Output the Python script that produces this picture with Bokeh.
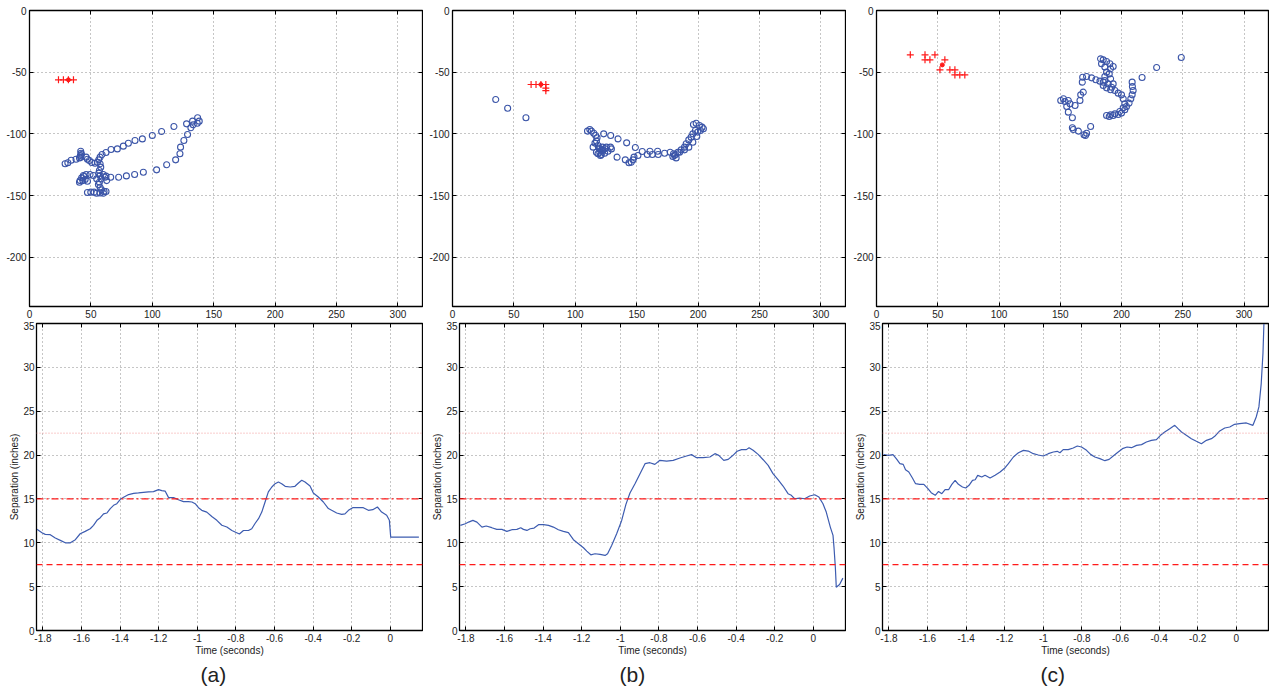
from bokeh.plotting import figure
from bokeh.layouts import row, column
from bokeh.models import (Span, Title, LinearAxis, FixedTicker, Range1d,
                          CustomJSTickFormatter)
from bokeh.embed import file_html
from bokeh.resources import INLINE

# ---------------- data ----------------
# Tracked hand positions (pixels) for the three trials
a_pos_x = [29.0, 31.2, 33.9, 37.9, 40.7, 41.7, 42.0, 41.5, 42.3, 41.7, 46.1, 47.2, 48.8, 50.7,
           53.4, 55.3, 56.4, 57.5, 59.1, 62.3, 66.4, 71.5, 76.4, 80.5, 85.9, 91.9, 100.0, 107.6,
           117.6, 127.9, 132.8, 136.9, 138.2, 136.6, 133.3, 131.4, 128.7, 125.7, 123.0, 122.5,
           119.0, 111.7, 103.5, 92.7, 85.6, 78.9, 72.6, 66.1, 62.3, 60.2, 57.5, 58.0, 56.9, 56.4,
           57.5, 58.3, 56.9, 56.1, 57.5, 58.8, 60.7, 62.3, 60.2, 57.5, 54.7, 52.6, 49.9, 47.2,
           62.9, 61.5, 54.7, 52.0, 49.3, 46.1, 43.9, 42.5, 41.2, 40.7, 43.4, 45.3, 47.2, 44.4]
a_pos_y = [-124.3, -123.5, -121.4, -120.6, -119.5, -114.1, -115.7, -117.6, -116.8, -118.9, -118.9,
           -120.6, -121.6, -123.3, -123.8, -123.0, -121.1, -118.9, -116.8, -115.1, -112.7, -112.2,
           -110.0, -107.6, -105.4, -104.1, -101.4, -98.1, -94.1, -91.9, -89.7, -87.0, -89.7, -91.4,
           -92.7, -95.1, -100.6, -105.4, -110.8, -116.2, -121.1, -125.1, -129.2, -131.1, -133.0,
           -134.1, -135.2, -135.2, -134.3, -133.0, -124.3, -127.0, -129.7, -131.9, -133.8, -136.5,
           -139.2, -141.1, -143.3, -145.4, -146.8, -146.8, -148.1, -147.9, -148.1, -147.3, -147.3,
           -147.6, -137.9, -135.2, -136.5, -133.8, -133.0, -133.0, -133.8, -135.7, -137.9, -139.2,
           -137.9, -137.0, -138.4, -134.6]
a_ref_x = [23.6, 27.6, 31.7, 35.8]
a_ref_y = [-56.2, -56.2, -56.2, -56.2]
a_dot_x = [31.7]
a_dot_y = [-56.2]

b_pos_x = [35.2, 44.9, 59.8, 109.9, 111.8, 113.1, 115.0, 116.6, 117.7, 114.5, 117.2, 118.5, 119.9,
           117.2, 118.5, 121.2, 123.9, 126.6, 128.6, 129.4, 125.3, 122.0, 119.9, 122.6, 123.1, 128.8,
           134.8, 141.8, 148.9, 134.0, 140.7, 143.7, 145.6, 147.0, 147.8, 151.0, 154.5, 158.6, 160.8,
           162.7, 167.0, 167.5, 172.7, 177.3, 180.8, 182.1, 180.0, 183.5, 186.2, 188.9, 190.3, 192.4,
           194.3, 195.7, 197.8, 196.2, 198.4, 201.1, 203.2, 204.3, 201.9, 199.7, 198.9, 195.7, 192.4,
           188.9, 184.9, 181.6, 179.4, 120.5, 121.8, 124.0, 119.3, 116.0]
b_pos_y = [-72.2, -79.2, -87.0, -97.8, -96.5, -97.8, -99.5, -101.4, -103.2, -110.8, -105.9, -109.5,
           -112.2, -114.9, -116.2, -116.8, -115.7, -114.1, -110.8, -112.2, -110.8, -110.8, -114.9,
           -113.0, -100.0, -101.4, -104.1, -107.3, -111.1, -118.9, -121.1, -123.5, -123.0, -121.1,
           -118.9, -117.6, -114.3, -116.8, -114.1, -116.8, -114.1, -116.8, -115.7, -114.9, -117.6,
           -119.5, -116.2, -114.9, -113.0, -110.8, -108.1, -104.9, -102.7, -100.0, -97.3, -92.4,
           -91.4, -93.2, -94.6, -95.9, -97.3, -98.6, -102.2, -106.8, -110.8, -113.0, -114.9, -116.8,
           -118.4, -117.5, -113.8, -112.0, -111.5, -107.5]
b_ref_x = [64.0, 68.0, 72.0, 76.0, 76.0, 76.0]
b_ref_y = [-60.0, -60.0, -60.0, -60.0, -63.0, -65.0]
b_dot_x = [72.0]
b_dot_y = [-60.0]

c_pos_x = [248.8, 228.7, 216.8, 208.7, 208.9, 209.5, 208.7, 207.6, 206.2, 204.1, 202.7, 200.0, 197.3,
           193.2, 190.0, 187.8, 191.1, 194.6, 198.6, 201.4, 202.7, 201.4, 200.0, 197.3, 194.6, 191.9,
           189.2, 186.4, 185.1, 187.8, 191.1, 193.2, 191.1, 190.0, 191.1, 193.2, 190.5, 187.8, 185.1,
           182.9, 183.7, 186.4, 187.8, 186.4, 185.1, 182.4, 179.1, 175.6, 171.5, 168.3, 168.0, 168.8,
           166.7, 166.1, 162.1, 158.0, 153.9, 150.4, 152.6, 156.6, 155.3, 156.6, 159.9, 159.9, 160.7,
           164.8, 169.4, 171.5, 170.7, 174.8]
c_pos_y = [-38.1, -46.2, -54.3, -58.1, -61.6, -64.9, -68.4, -71.6, -75.1, -77.8, -80.5, -83.2, -84.3,
           -85.1, -85.9, -85.1, -84.6, -83.8, -81.9, -78.9, -75.7, -71.6, -68.4, -67.0, -64.9, -62.2,
           -59.5, -56.8, -60.8, -62.7, -64.3, -59.5, -55.4, -51.4, -47.3, -45.4, -43.2, -41.4, -40.0,
           -39.2, -43.2, -45.9, -50.0, -53.5, -58.1, -57.3, -56.2, -54.6, -53.5, -54.1, -58.1, -66.2,
           -68.4, -73.0, -77.0, -75.7, -73.8, -73.0, -71.6, -73.0, -77.8, -82.4, -87.0, -95.1, -96.5,
           -97.8, -100.8, -99.5, -101.4, -94.1]
c_ref_x = [27.6, 39.6, 47.7, 39.6, 43.6, 55.8, 51.8, 59.9, 64.0, 64.0, 68.0, 72.1]
c_ref_y = [-35.9, -35.9, -35.9, -40.0, -40.0, -40.0, -48.1, -48.1, -48.1, -52.2, -52.2, -52.2]
c_dot_x = [53.7]
c_dot_y = [-44.1]

# Separation (inches) against time (seconds)
a_time = [-1.831, -1.805, -1.788, -1.762, -1.736, -1.710, -1.684, -1.658, -1.632, -1.607, -1.581,
          -1.555, -1.538, -1.520, -1.503, -1.486, -1.468, -1.451, -1.434, -1.417, -1.399, -1.382,
          -1.356, -1.330, -1.305, -1.279, -1.253, -1.227, -1.201, -1.184, -1.167, -1.149, -1.123,
          -1.098, -1.072, -1.046, -1.028, -1.011, -0.994, -0.977, -0.951, -0.925, -0.899, -0.873,
          -0.847, -0.821, -0.796, -0.782, -0.761, -0.735, -0.718, -0.701, -0.683, -0.666, -0.649,
          -0.632, -0.614, -0.597, -0.580, -0.563, -0.545, -0.519, -0.494, -0.476, -0.459, -0.442,
          -0.416, -0.399, -0.373, -0.347, -0.321, -0.304, -0.278, -0.252, -0.235, -0.217, -0.195,
          -0.166, -0.140, -0.114, -0.091, -0.067, -0.045, -0.019, -0.005, 0.002, 0.033, 0.148]
a_sep = [11.53, 11.15, 10.96, 10.92, 10.54, 10.27, 10.0, 10.0, 10.35, 11.03, 11.3, 11.6, 11.99,
         12.56, 12.86, 13.3, 13.4, 13.9, 14.27, 14.46, 14.95, 15.2, 15.5, 15.64, 15.68, 15.75, 15.8,
         15.83, 16.06, 15.94, 15.9, 15.15, 15.15, 14.9, 14.7, 14.7, 14.65, 14.46, 14.0, 13.7, 13.5,
         13.0, 12.56, 12.0, 11.8, 11.4, 11.15, 11.0, 11.4, 11.4, 11.6, 12.2, 12.75, 13.5, 14.65,
         15.8, 16.36, 16.74, 16.93, 16.74, 16.44, 16.36, 16.44, 16.82, 17.12, 16.93, 16.48, 15.68,
         15.22, 14.65, 13.9, 13.7, 13.4, 13.24, 13.3, 13.7, 14.0, 14.0, 14.0, 13.7, 13.77, 14.08,
         13.5, 13.13, 12.56, 10.65, 10.65, 10.65]

b_time = [-1.829, -1.803, -1.786, -1.764, -1.743, -1.717, -1.695, -1.666, -1.640, -1.614, -1.588,
          -1.562, -1.536, -1.516, -1.502, -1.484, -1.467, -1.447, -1.424, -1.398, -1.372, -1.347,
          -1.321, -1.295, -1.269, -1.243, -1.217, -1.191, -1.174, -1.153, -1.131, -1.105, -1.079,
          -1.066, -1.045, -1.019, -0.993, -0.971, -0.950, -0.924, -0.898, -0.872, -0.847, -0.821,
          -0.795, -0.760, -0.726, -0.691, -0.657, -0.631, -0.605, -0.571, -0.536, -0.510, -0.490,
          -0.464, -0.441, -0.416, -0.395, -0.372, -0.347, -0.333, -0.312, -0.286, -0.260, -0.234,
          -0.209, -0.183, -0.157, -0.131, -0.114, -0.097, -0.071, -0.045, -0.019, 0.007, 0.029,
          0.050, 0.067, 0.088, 0.102, 0.107, 0.114, 0.119, 0.136, 0.153]
b_sep = [11.98, 12.17, 12.36, 12.55, 12.36, 11.79, 11.91, 11.72, 11.53, 11.53, 11.3, 11.49, 11.53,
         11.72, 11.53, 11.41, 11.6, 11.68, 12.06, 12.06, 11.98, 11.79, 11.49, 11.3, 11.15, 10.35,
         9.89, 9.43, 9.05, 8.63, 8.75, 8.67, 8.56, 8.75, 9.7, 11.03, 12.55, 14.38, 15.67, 16.74,
         17.88, 19.02, 19.13, 18.94, 19.4, 19.32, 19.4, 19.67, 19.89, 20.05, 19.7, 19.7, 19.78,
         20.16, 19.97, 19.4, 19.51, 19.97, 20.43, 20.62, 20.62, 20.84, 20.54, 20.08, 19.47, 18.83,
         17.88, 17.19, 16.47, 15.6, 15.41, 15.02, 15.1, 15.02, 15.33, 15.48, 15.21, 14.45, 13.5,
         11.79, 10.84, 9.51, 7.23, 4.94, 5.25, 5.97]

c_time = [-1.828, -1.802, -1.779, -1.762, -1.743, -1.726, -1.714, -1.697, -1.679, -1.662, -1.641,
          -1.619, -1.598, -1.581, -1.560, -1.543, -1.526, -1.509, -1.491, -1.474, -1.457, -1.440,
          -1.419, -1.402, -1.385, -1.367, -1.353, -1.340, -1.319, -1.302, -1.276, -1.250, -1.224,
          -1.198, -1.181, -1.155, -1.129, -1.103, -1.078, -1.052, -1.026, -1.000, -0.974, -0.948,
          -0.928, -0.914, -0.897, -0.871, -0.845, -0.824, -0.802, -0.776, -0.755, -0.733, -0.707,
          -0.681, -0.659, -0.638, -0.612, -0.590, -0.566, -0.543, -0.517, -0.491, -0.466, -0.440,
          -0.414, -0.393, -0.371, -0.345, -0.319, -0.302, -0.284, -0.259, -0.233, -0.207, -0.181,
          -0.155, -0.129, -0.112, -0.086, -0.060, -0.034, -0.009, 0.017, 0.052, 0.086, 0.103, 0.117,
          0.129, 0.138, 0.143, 0.147]
c_sep = [20.05, 19.97, 20.05, 19.59, 19.02, 18.94, 18.33, 18.07, 17.42, 16.74, 16.66, 16.66, 16.17,
         15.71, 15.41, 15.86, 15.6, 16.05, 16.05, 16.66, 17.12, 16.66, 16.36, 16.24, 16.55, 17.12,
         17.19, 17.69, 17.5, 17.69, 17.38, 17.69, 18.07, 18.56, 19.02, 19.78, 20.27, 20.54, 20.46,
         20.16, 20.01, 19.89, 20.16, 20.35, 20.43, 20.27, 20.62, 20.62, 20.81, 21.03, 20.92, 20.54,
         20.08, 19.78, 19.59, 19.36, 19.51, 19.89, 20.35, 20.73, 20.92, 20.84, 21.11, 21.19, 21.49,
         21.68, 21.76, 22.25, 22.63, 23.01, 23.39, 23.01, 22.63, 22.25, 21.87, 21.57, 21.3, 21.68,
         21.87, 22.14, 22.75, 23.09, 23.2, 23.51, 23.58, 23.66, 23.39, 24.34, 25.49, 28.15, 31.57,
         35.0, 37.0]

# Reference separations drawn as horizontal lines
upper_limit = 22.5
middle_limit = 15.0
lower_limit = 7.5

captions = ["(a)", "(b)", "(c)"]

pos_xticks = [0, 50, 100, 150, 200, 250, 300]
pos_yticks = [0, -50, -100, -150, -200]
time_ticks = [-1.8, -1.6, -1.4, -1.2, -1.0, -0.8, -0.6, -0.4, -0.2, 0.0]
sep_ticks = [0, 5, 10, 15, 20, 25, 30, 35]

# ---------------- styling ----------------
FONT = "Liberation Sans"
BLUE = "#3b55a8"
LINE_BLUE = "#3d5cb0"
RED = "#ff1a1a"
TEXT = "#222222"
PANEL_W = 423
TOP_H = 321
BOT_H = 369

fmt = CustomJSTickFormatter(code="return String(Math.round(tick * 10) / 10);")
blank = CustomJSTickFormatter(code="return '';")


def style_axes(p, xticks, yticks):
    xax, yax = p.xaxis[0], p.yaxis[0]
    xax.ticker = FixedTicker(ticks=xticks)
    yax.ticker = FixedTicker(ticks=yticks)
    for ax in (xax, yax):
        ax.formatter = fmt
        ax.major_tick_in = 4
        ax.major_tick_out = 0
        ax.minor_tick_line_color = None
        ax.axis_line_color = "black"
        ax.major_tick_line_color = "black"
        ax.major_label_text_font = FONT
        ax.major_label_text_font_size = "10px"
        ax.major_label_text_color = TEXT
        ax.major_label_standoff = 3
        ax.axis_label_text_font = FONT
        ax.axis_label_text_font_size = "10px"
        ax.axis_label_text_font_style = "normal"
        ax.axis_label_text_color = TEXT
    # tick marks on the opposite sides of the box, without labels
    for loc, tk in (("right", yticks), ("above", xticks)):
        ax = LinearAxis(ticker=FixedTicker(ticks=tk), formatter=blank,
                        major_tick_in=4, major_tick_out=0, minor_tick_line_color=None,
                        major_label_standoff=0, major_label_text_font_size="1px",
                        axis_line_color="black")
        p.add_layout(ax, loc)
    p.xgrid.ticker = FixedTicker(ticks=xticks)
    p.ygrid.ticker = FixedTicker(ticks=yticks)
    for g in (p.xgrid, p.ygrid):
        g.grid_line_color = "#8c8c8c"
        g.grid_line_dash = "1 3"
        g.grid_line_width = 1
    p.outline_line_color = "black"
    p.outline_line_width = 1.3
    p.background_fill_color = "white"
    p.border_fill_color = "white"
    return xax, yax


def position_panel(px, py, rx, ry, dx, dy, left):
    p = figure(width=PANEL_W, height=TOP_H, output_backend="svg", toolbar_location=None,
               x_range=Range1d(0, 320), y_range=Range1d(-240, 0),
               min_border_left=left, min_border_right=1, min_border_top=10,
               min_border_bottom=TOP_H - 306)
    style_axes(p, pos_xticks, pos_yticks)
    p.scatter(px, py, marker="circle", size=6, fill_color=None,
              line_color=BLUE, line_width=1.1)
    p.scatter(rx, ry, marker="cross", size=7, line_color=RED, line_width=1.2)
    p.scatter(dx, dy, marker="circle", size=4, fill_color=RED, line_color=RED)
    return p


def separation_panel(t, s, caption, shift):
    p = figure(width=PANEL_W, height=BOT_H, output_backend="svg", toolbar_location=None,
               x_range=Range1d(-1.8333, 0.1667), y_range=Range1d(0, 35),
               min_border_left=36, min_border_right=1, min_border_top=2,
               min_border_bottom=60)
    xax, yax = style_axes(p, time_ticks, sep_ticks)
    xax.axis_label = "Time (seconds)"
    xax.axis_label_standoff = 0
    yax.axis_label = "Separation (inches)"
    yax.axis_label_standoff = 0
    yax.major_label_standoff = 2
    p.add_layout(Span(location=upper_limit, dimension="width", line_color="#f39a9a",
                      line_dash="1 2", line_width=1))
    p.add_layout(Span(location=middle_limit, dimension="width", line_color=RED,
                      line_dash="7 3 2 3", line_width=1.2))
    p.add_layout(Span(location=lower_limit, dimension="width", line_color=RED,
                      line_dash="6 4", line_width=1.2))
    p.line(t, s, line_color=LINE_BLUE, line_width=1.2)
    p.add_layout(Title(text=caption, align="left", offset=shift, standoff=4,
                       text_font=FONT, text_font_size="21px",
                       text_font_style="normal", text_color=TEXT), "below")
    return p


top = row(
    position_panel(a_pos_x, a_pos_y, a_ref_x, a_ref_y, a_dot_x, a_dot_y, 29),
    position_panel(b_pos_x, b_pos_y, b_ref_x, b_ref_y, b_dot_x, b_dot_y, 29),
    position_panel(c_pos_x, c_pos_y, c_ref_x, c_ref_y, c_dot_x, c_dot_y, 30),
)
bottom = row(
    separation_panel(a_time, a_sep, captions[0], 164),
    separation_panel(b_time, b_sep, captions[1], 160),
    separation_panel(c_time, c_sep, captions[2], 158),
)
layout = column(top, bottom)

open("out.html", "w").write(file_html(layout, INLINE))
